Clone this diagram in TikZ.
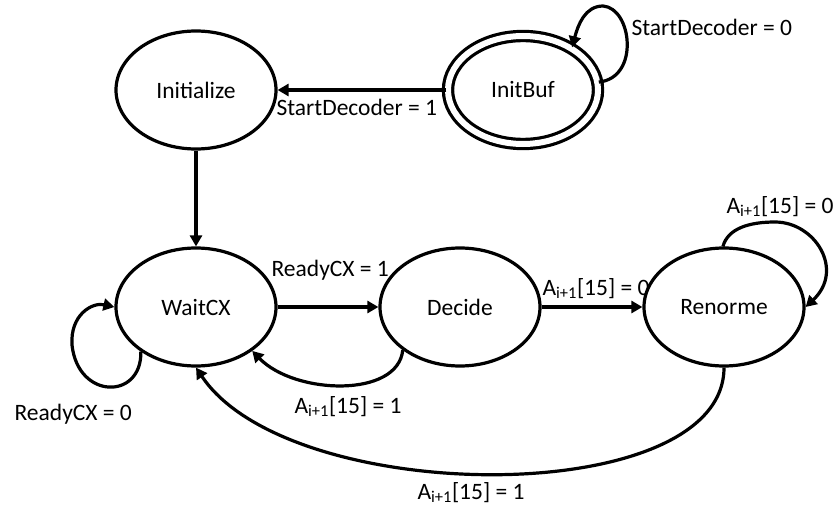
\documentclass[tikz,border=0pt]{standalone}
\usepackage{fontspec}
\setmainfont{Carlito}
\usetikzlibrary{shapes.geometric,arrows.meta}
\begin{document}
\begin{tikzpicture}[x=1pt,y=-1pt, line width=3.2pt,
  st/.style={ellipse, draw, minimum width=160pt, minimum height=118pt, inner sep=0pt, font=\fontsize{23.5}{26}\selectfont},
  lbl/.style={font=\fontsize{23.5}{26}\selectfont, inner sep=0pt, anchor=base west},
  arr/.style={-{Triangle[length=11pt,width=12pt]}}]
\useasboundingbox (0,0) rectangle (834,508);
\node[st] (init) at (196,90) {Initialize};
\node[st, minimum width=150pt, minimum height=108pt, double, double distance=6pt] (ib) at (523,90) {InitBuf};
\node[st] (wait) at (196,307) {WaitCX};
\node[st] (dec) at (460,307) {Decide};
\node[st] (ren) at (724,307) {Renorme};
% straight transitions
\draw[arr] (ib) -- (init);
\draw[arr] (init) -- (wait);
\draw[arr] (wait) -- (dec);
\draw[arr] (dec) -- (ren);
% InitBuf self loop
\draw[arr] (ib.6) .. controls (640,78) and (632,8) .. (603,6) .. controls (585,6) and (578,25) .. (ib.41);
% Renorme self loop
\draw[arr] (ren.91) .. controls (728,228) and (750,222) .. (775,222) .. controls (815,222) and (845,270) .. (ren.east);
% WaitCX self loop
\draw[arr] (wait.219) .. controls (142,400) and (78,400) .. (72,345) .. controls (70,315) and (92,302) .. (wait.west);
% Decide -> WaitCX
\draw[arr] (dec.217) .. controls (398,398) and (295,395) .. (wait.322);
% Renorme -> WaitCX
\draw[arr] (ren.south) .. controls (724,510) and (290,508) .. (wait.south);
% labels
\node[lbl] (l1) at (630,36) {StartDecoder = 0};
\node[lbl] (l2) at (275,116) {StartDecoder = 1};
\node[lbl] (l3) at (270,276) {ReadyCX = 1};
\node[lbl] (l4) at (541,295) {A\textsubscript{i+1}[15] = 0};
\node[lbl] (l5) at (725,213) {A\textsubscript{i+1}[15] = 0};
\node[lbl] (l6) at (293,413) {A\textsubscript{i+1}[15] = 1};
\node[lbl] (l7) at (13,420) {ReadyCX = 0};
\node[lbl] (l8) at (416,499) {A\textsubscript{i+1}[15] = 1};
\end{tikzpicture}
\end{document}
